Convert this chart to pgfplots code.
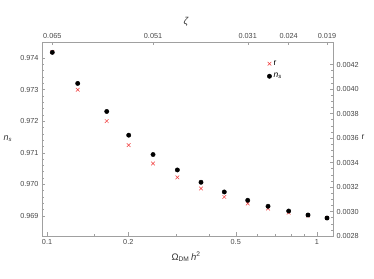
\documentclass[border=0pt]{standalone}
\usepackage{pgfplots}
\pgfplotsset{compat=1.18}
\usepackage{fontspec}
\setmainfont{Liberation Sans}
\definecolor{framegray}{RGB}{160,160,160}
\definecolor{labgray}{RGB}{70,70,70}
\definecolor{xred}{RGB}{240,60,60}
\begin{document}
\begin{tikzpicture}
\path[use as bounding box] (-42bp,-43bp) rectangle (332bp,236bp);
% r axis (right / top)
\begin{axis}[
  scale only axis, width=291bp, height=194bp,
  xmode=log, xmin=0.0958, xmax=1.146,
  axis line style={framegray, line width=0.5pt},
  major tick style={framegray, line width=0.4pt},
  minor tick style={framegray, line width=0.4pt},
  major tick length=3.5bp, minor tick length=2bp,
  tick align=inside,
  tick label style={font=\fontsize{7.3}{8}\selectfont, text=labgray},
  scaled y ticks=false,
  ymin=0.0028, ymax=0.004384,
  xtick={0.1046,0.247,0.5538,0.7854,1.089},
  xticklabels={0.065,0.051,0.031,0.024,0.019},
  minor xtick={},
  xtick pos=right, xticklabel pos=right,
  ytick={0.0028,0.0030,0.0032,0.0034,0.0036,0.0038,0.0040,0.0042},
  yticklabels={0.0028,0.0030,0.0032,0.0034,0.0036,0.0038,0.0040,0.0042},
  minor y tick num=3,
  ytick pos=right, yticklabel pos=right,
  xlabel={\textit{ζ}},
  xlabel style={at={(rel axis cs:0.495,1.103)}, anchor=center, font=\fontsize{10}{12}\selectfont, text=black!80},
  ylabel={r},
  ylabel style={at={(rel axis cs:1.103,0.51)}, anchor=center, rotate=-90, font=\fontsize{8.5}{10}\selectfont, text=black!80},
  legend style={at={(0.77,0.92)}, anchor=north west, draw=none, fill=none,
    font=\fontsize{8.5}{10}\selectfont, row sep=2.5pt, inner sep=1pt},
  legend cell align=left,
]
\addplot[only marks, mark=x, mark size=2.6pt, xred, line width=0.5pt] coordinates {
(0.1046,0.004303) (0.1299,0.003994) (0.1664,0.003738) (0.2007,0.003542)
(0.2470,0.003392) (0.3039,0.003278) (0.3718,0.003188) (0.4535,0.003119)
(0.5538,0.003065) (0.6585,0.003024) (0.7854,0.002991) (0.9261,0.002967)
(1.089,0.002947)};
\addlegendentry{r}
\addlegendimage{only marks, mark=*, mark size=2.2pt, black}
\addlegendentry{\textit{n}\textsubscript{\textit{s}}}
\end{axis}
% n_s axis (left / bottom)
\begin{axis}[
  scale only axis, width=291bp, height=194bp,
  xmode=log, xmin=0.0958, xmax=1.146,
  axis line style={framegray, line width=0.5pt},
  major tick style={framegray, line width=0.4pt},
  minor tick style={framegray, line width=0.4pt},
  major tick length=3.5bp, minor tick length=2bp,
  tick align=inside,
  tick label style={font=\fontsize{7.3}{8}\selectfont, text=labgray},
  scaled y ticks=false,
  ymin=0.96836, ymax=0.97451,
  xtick={0.1,0.2,0.5,1},
  xticklabels={0.1,0.2,0.5,1},
  minor xtick={0.15,0.3,0.4,0.6,0.7,0.8,0.9},
  xtick pos=left, xticklabel pos=left,
  ytick={0.969,0.970,0.971,0.972,0.973,0.974},
  yticklabels={0.969,0.970,0.971,0.972,0.973,0.974},
  minor y tick num=4,
  ytick pos=left, yticklabel pos=left,
  xlabel={Ω\textsubscript{DM}\,\textit{h}\textsuperscript{2}},
  xlabel style={at={(rel axis cs:0.495,-0.108)}, anchor=center, font=\fontsize{9.5}{11}\selectfont, text=black!80},
  ylabel={\textit{n}\textsubscript{\textit{s}}},
  ylabel style={at={(rel axis cs:-0.117,0.5)}, anchor=center, rotate=-90, font=\fontsize{9}{10}\selectfont, text=black!80},
]
\addplot[only marks, mark=*, mark size=2.2pt, black] coordinates {
(0.1046,0.974181) (0.1299,0.973197) (0.1664,0.972308) (0.2007,0.971556)
(0.2470,0.970943) (0.3039,0.970454) (0.3718,0.970063) (0.4535,0.969756)
(0.5538,0.969492) (0.6585,0.969302) (0.7854,0.969152) (0.9261,0.969025)
(1.089,0.968930)};
\end{axis}
\end{tikzpicture}
\end{document}
